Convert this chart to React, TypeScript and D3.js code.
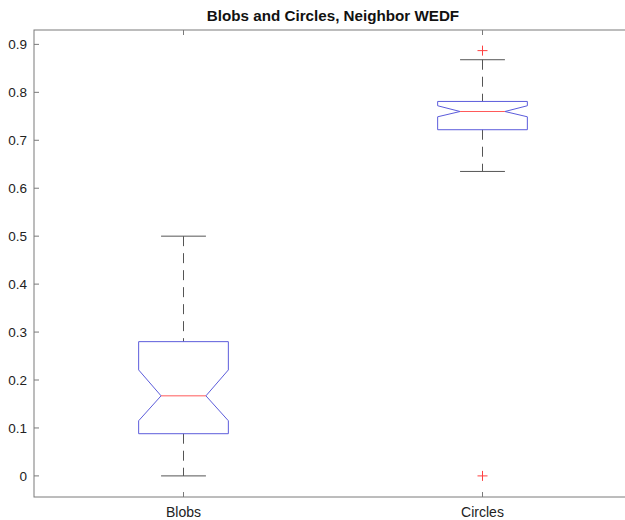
import React from "react";
import * as d3 from "d3";

// boxplot summary values
const categories = ["Blobs", "Circles"];
const whiskerLow = [0, 0.635];
const q1 = [0.088, 0.722];
const median = [0.167, 0.76];
const q3 = [0.28, 0.781];
const whiskerHigh = [0.5, 0.868];
const notchLow = [0.115, 0.749];
const notchHigh = [0.221, 0.772];
const outliers = [[], [0.887, 0]];
const yTicks = [0, 0.1, 0.2, 0.3, 0.4, 0.5, 0.6, 0.7, 0.8, 0.9];

const W = 625;
const H = 520;
const margin = { top: 30, right: -7, bottom: 23, left: 34 };

const App = () => {
  const x = d3
    .scaleLinear()
    .domain([0.5, 2.5])
    .range([margin.left, W - margin.right]);
  const y = d3
    .scaleLinear()
    .domain([-0.044, 0.93])
    .range([H - margin.bottom, margin.top]);

  const boxHalf = 0.15;
  const notchHalf = 0.075;
  const axisColor = "#7a7a7a";
  const font = "'Liberation Sans', Arial, Helvetica, sans-serif";

  const boxPath = (i: number) => {
    const c = i + 1;
    const p = d3.path();
    p.moveTo(x(c - boxHalf), y(q3[i]));
    p.lineTo(x(c + boxHalf), y(q3[i]));
    p.lineTo(x(c + boxHalf), y(notchHigh[i]));
    p.lineTo(x(c + notchHalf), y(median[i]));
    p.lineTo(x(c + boxHalf), y(notchLow[i]));
    p.lineTo(x(c + boxHalf), y(q1[i]));
    p.lineTo(x(c - boxHalf), y(q1[i]));
    p.lineTo(x(c - boxHalf), y(notchLow[i]));
    p.lineTo(x(c - notchHalf), y(median[i]));
    p.lineTo(x(c - boxHalf), y(notchHigh[i]));
    p.closePath();
    return p.toString();
  };

  const x0 = margin.left;
  const x1 = W - margin.right;
  const y0 = H - margin.bottom;
  const y1 = margin.top;
  const tick = 5;

  return (
    <svg
      width={W}
      height={H}
      style={{ position: "absolute", left: 0, top: 0, background: "#fff" }}
      fontFamily={font}
    >
      <text
        x={(x0 + x1) / 2}
        y={21}
        textAnchor="middle"
        fontSize={15.2}
        fontWeight="bold"
        fill="#111"
      >
        Blobs and Circles, Neighbor WEDF
      </text>

      {/* axes box */}
      <rect x={x0} y={y1} width={x1 - x0} height={y0 - y1} fill="none" stroke={axisColor} strokeWidth={1} />

      {yTicks.map((t) => (
        <g key={t}>
          <line x1={x0} x2={x0 + tick} y1={y(t)} y2={y(t)} stroke={axisColor} />
          <line x1={x1} x2={x1 - tick} y1={y(t)} y2={y(t)} stroke={axisColor} />
          <text x={x0 - 7} y={y(t)} dy="0.35em" textAnchor="end" fontSize={13.5} fill="#222">
            {t}
          </text>
        </g>
      ))}

      {categories.map((c, i) => (
        <g key={c}>
          <line x1={x(i + 1)} x2={x(i + 1)} y1={y0} y2={y0 - tick} stroke={axisColor} />
          <line x1={x(i + 1)} x2={x(i + 1)} y1={y1} y2={y1 + tick} stroke={axisColor} />
          <text x={x(i + 1)} y={y0 + 20} textAnchor="middle" fontSize={14} fill="#222">
            {c}
          </text>
        </g>
      ))}

      {categories.map((c, i) => {
        const cx = x(i + 1);
        return (
          <g key={"box" + c}>
            <line x1={cx} x2={cx} y1={y(whiskerHigh[i])} y2={y(q3[i])} stroke="#555" strokeDasharray="10,7" />
            <line x1={cx} x2={cx} y1={y(q1[i])} y2={y(whiskerLow[i])} stroke="#555" strokeDasharray="10,7" />
            <line
              x1={x(i + 1 - notchHalf)}
              x2={x(i + 1 + notchHalf)}
              y1={y(whiskerHigh[i])}
              y2={y(whiskerHigh[i])}
              stroke="#555"
            />
            <line
              x1={x(i + 1 - notchHalf)}
              x2={x(i + 1 + notchHalf)}
              y1={y(whiskerLow[i])}
              y2={y(whiskerLow[i])}
              stroke="#555"
            />
            <path d={boxPath(i)} fill="none" stroke="#5c5cdb" strokeWidth={1} />
            <line
              x1={x(i + 1 - notchHalf)}
              x2={x(i + 1 + notchHalf)}
              y1={y(median[i])}
              y2={y(median[i])}
              stroke="#ff5a5a"
            />
            {outliers[i].map((o, k) => (
              <g key={k} stroke="#ff4040">
                <line x1={cx - 5} x2={cx + 5} y1={y(o)} y2={y(o)} />
                <line x1={cx} x2={cx} y1={y(o) - 5} y2={y(o) + 5} />
              </g>
            ))}
          </g>
        );
      })}
    </svg>
  );
};

export default App;
